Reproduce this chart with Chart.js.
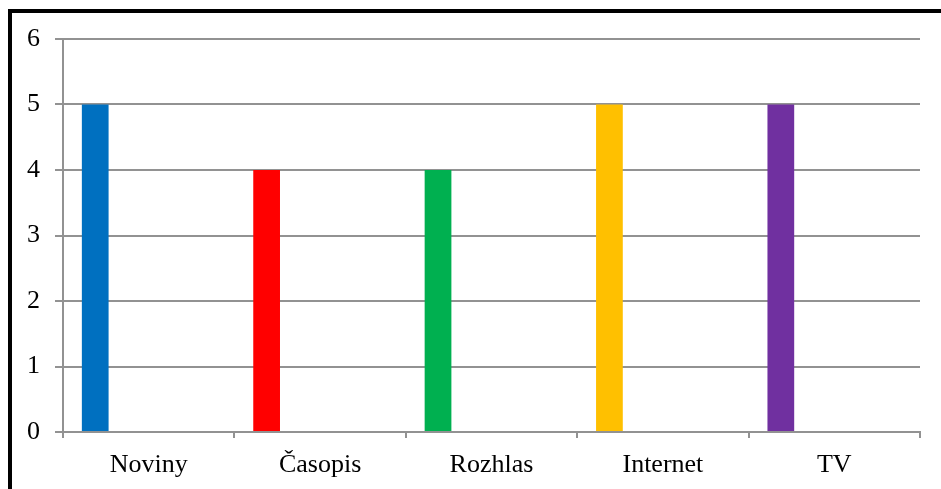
<!DOCTYPE html>
<html>
<head>
<meta charset="utf-8">
<script src="https://cdn.jsdelivr.net/npm/chart.js@4"></script>
<style>
  html, body { margin: 0; padding: 0; background: #fff; }
  #wrap { position: relative; width: 941px; height: 489px; overflow: hidden; }
  #frame { position: absolute; left: 8px; top: 9px; width: 1000px; height: 600px;
           border-top: 4px solid #000; border-left: 4px solid #000; }
  canvas { position: absolute; left: 0; top: 0; }
</style>
</head>
<body>
<div id="wrap">
  <div id="frame"></div>
  <canvas id="chart" width="941" height="489"></canvas>
</div>
<script>
const categories = ['Noviny', 'Časopis', 'Rozhlas', 'Internet', 'TV'];
const values = [5, 4, 4, 5, 5];
const barColors = ['#0070C0', '#FF0000', '#00B050', '#FFC000', '#7030A0'];
const yTicks = [0, 1, 2, 3, 4, 5, 6];

const gridGray = '#929292';
const font = { family: '"Liberation Serif", "Times New Roman", serif', size: 26 };

// Excel grouped the bars with 4 empty series, so the real one sits at the left of each slot
const emptySeries = [1, 2, 3, 4].map(() => ({
  data: categories.map(() => null),
  backgroundColor: 'transparent'
}));

const ctx = document.getElementById('chart').getContext('2d');
new Chart(ctx, {
  type: 'bar',
  data: {
    labels: categories,
    datasets: [{
      data: values,
      backgroundColor: barColors
    }].concat(emptySeries)
  },
  options: {
    responsive: false,
    animation: false,
    categoryPercentage: 0.78,
    barPercentage: 1,
    layout: { padding: { top: 39, right: 21, left: 0, bottom: 0 } },
    plugins: { legend: { display: false }, tooltip: { enabled: false } },
    scales: {
      x: {
        offset: true,
        grid: { offset: true, drawOnChartArea: false, drawTicks: true, tickLength: 6, color: gridGray, lineWidth: 2 },
        border: { color: gridGray, width: 2 },
        ticks: { color: '#000', font: font, padding: 12, maxRotation: 0 },
        afterFit: s => { s.height = 57; }
      },
      y: {
        min: 0,
        max: 6,
        afterBuildTicks: s => { s.ticks = yTicks.map(v => ({ value: v })); },
        grid: { color: gridGray, lineWidth: 2, tickLength: 8 },
        border: { color: gridGray, width: 2 },
        ticks: { color: '#000', font: font, padding: 15 },
        afterFit: s => { s.width = 63; }
      }
    }
  }
});
</script>
</body>
</html>
